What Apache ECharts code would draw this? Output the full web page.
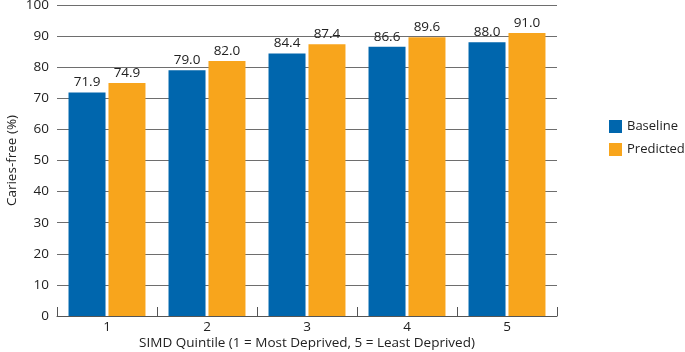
<!DOCTYPE html>
<html>
<head>
<meta charset="utf-8">
<script src="https://cdn.jsdelivr.net/npm/echarts@6/dist/echarts.min.js"></script>
<style>
  html, body { margin: 0; padding: 0; background: #fff; }
  #chart { width: 685px; height: 352px; }
</style>
</head>
<body>
<div id="chart"></div>
<script>
const quintiles = ["1", "2", "3", "4", "5"];
const baseline = [71.9, 79.0, 84.4, 86.6, 88.0];
const predicted = [74.9, 82.0, 87.4, 89.6, 91.0];

const FONT = "'Open Sans', sans-serif";
const chart = echarts.init(document.getElementById("chart"));

const labelStyle = {
  show: true,
  position: "top",
  distance: 3,
  color: "#222",
  fontSize: 13.5,
  fontFamily: FONT,
  formatter: (p) => p.value.toFixed(1),
};

chart.setOption({
  animation: false,
  textStyle: { fontFamily: FONT },
  grid: { left: 57, right: 128, top: 5, bottom: 36, outerBoundsMode: "none" },
  legend: {
    orient: "vertical",
    left: 604,
    top: 115,
    itemWidth: 13,
    itemHeight: 13,
    itemGap: 10,
    icon: "rect",
    textStyle: { color: "#222", fontSize: 13, fontFamily: FONT },
    data: ["Baseline", "Predicted"],
  },
  xAxis: {
    type: "category",
    data: quintiles,
    name: "SIMD Quintile (1 = Most Deprived, 5 = Least Deprived)",
    nameLocation: "middle",
    nameGap: 20,
    nameMoveOverlap: false,
    nameTextStyle: { color: "#222", fontSize: 13.5, fontFamily: FONT },
    axisLine: { lineStyle: { color: "#555", width: 1 } },
    axisTick: { show: true, inside: true, length: 9, lineStyle: { color: "#555" } },
    axisLabel: { color: "#222", fontSize: 13.5, margin: 4 },
  },
  yAxis: {
    type: "value",
    min: 0,
    max: 100,
    interval: 10,
    name: "Caries-free (%)",
    nameLocation: "middle",
    nameGap: 38,
    nameMoveOverlap: false,
    nameTextStyle: { color: "#222", fontSize: 13.5, fontFamily: FONT },
    axisLine: { show: false },
    axisTick: { show: false },
    axisLabel: { color: "#222", fontSize: 13.5, margin: 8 },
    splitLine: { lineStyle: { color: "#6e6e6e", width: 1 } },
  },
  series: [
    {
      name: "Baseline",
      type: "bar",
      data: baseline,
      barWidth: 37,
      barGap: "8%",
      itemStyle: { color: "#0066ad" },
      label: labelStyle,
    },
    {
      name: "Predicted",
      type: "bar",
      data: predicted,
      barWidth: 37,
      itemStyle: { color: "#f8a51c" },
      label: labelStyle,
    },
  ],
});
</script>
</body>
</html>
